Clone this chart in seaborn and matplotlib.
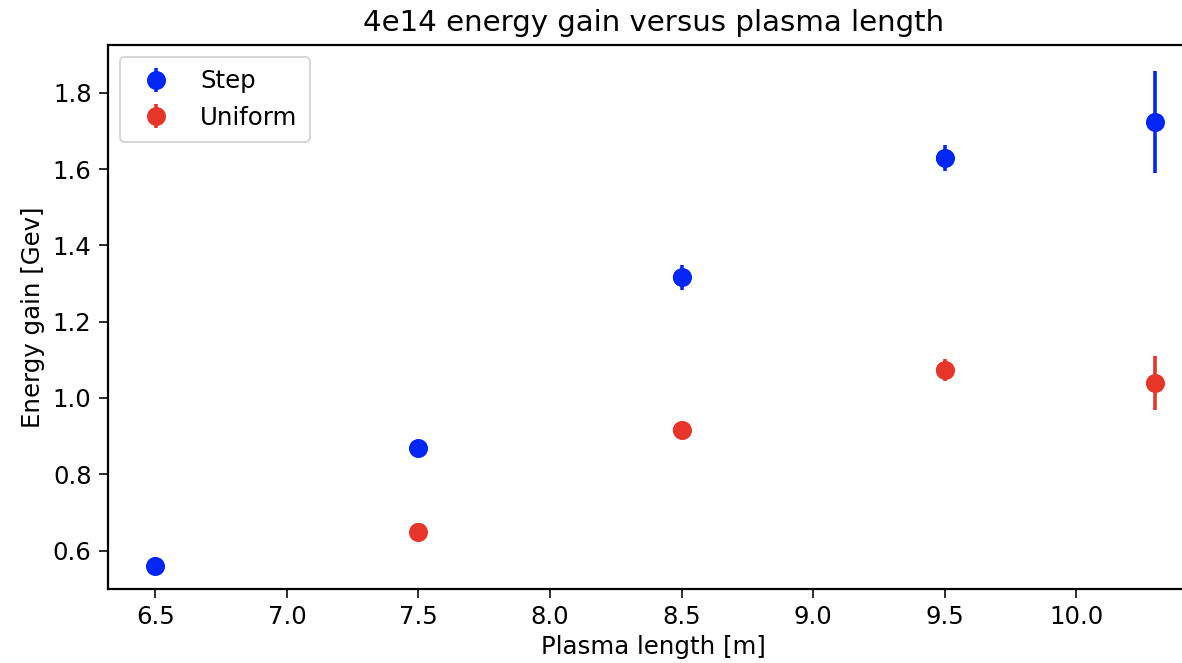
import matplotlib
matplotlib.use("Agg")
import matplotlib.pyplot as plt
import seaborn as sns
import pandas as pd

# Measured energy gain per plasma length, with uncertainties
step_length = [6.5, 7.5, 8.5, 9.5, 10.3]
step_gain = [0.560, 0.868, 1.316, 1.629, 1.724]
step_err = [0.008, 0.008, 0.032, 0.034, 0.134]

uniform_length = [7.5, 8.5, 9.5, 10.3]
uniform_gain = [0.650, 0.916, 1.073, 1.039]
uniform_err = [0.008, 0.010, 0.028, 0.070]

series_names = ["Step", "Uniform"]
series_colors = ["#0226f5", "#e8352a"]

df = pd.concat([
    pd.DataFrame({"length": step_length, "gain": step_gain, "err": step_err, "series": series_names[0]}),
    pd.DataFrame({"length": uniform_length, "gain": uniform_gain, "err": uniform_err, "series": series_names[1]}),
])

sns.set_style("ticks", {"axes.edgecolor": "black", "xtick.color": "black",
                        "ytick.color": "black", "text.color": "black",
                        "axes.labelcolor": "black"})
plt.rcParams["font.family"] = ["DejaVu Sans"]
plt.rcParams["font.size"] = 12.2
plt.rcParams["xtick.labelsize"] = 12.2
plt.rcParams["ytick.labelsize"] = 12.2
plt.rcParams["axes.labelsize"] = 12.2
plt.rcParams["xtick.major.size"] = 4.5
plt.rcParams["ytick.major.size"] = 4.5

fig, ax = plt.subplots(figsize=(1182 / 144, 663 / 144), dpi=144)
palette = dict(zip(series_names, series_colors))

for name in series_names:
    sub = df[df["series"] == name]
    ax.errorbar(sub["length"], sub["gain"], yerr=sub["err"], fmt="o",
                color=palette[name], markersize=8.5, elinewidth=1.8,
                capsize=0, label=name)

sns.scatterplot(data=df, x="length", y="gain", hue="series", palette=palette,
                s=75, edgecolor="none", legend=False, ax=ax, zorder=3)

for side in ["top", "right", "left", "bottom"]:
    ax.spines[side].set_visible(True)
    ax.spines[side].set_linewidth(1.1)

ax.set_xlim(6.318, 10.47)
ax.set_ylim(0.50, 1.925)
ax.set_xticks([6.5, 7.0, 7.5, 8.0, 8.5, 9.0, 9.5, 10.0])
ax.set_yticks([0.6, 0.8, 1.0, 1.2, 1.4, 1.6, 1.8])
ax.set_xlabel("Plasma length [m]", labelpad=3)
ax.set_ylabel("Energy gain [Gev]")
ax.set_title("4e14 energy gain versus plasma length", fontsize=14.6, pad=7)
ax.legend(loc="upper left", fontsize=12.2, borderpad=0.5)

# The plot area runs slightly past the right edge of the canvas
fig.subplots_adjust(left=0.091, right=1.015, top=0.932, bottom=0.112)
fig.savefig("out.png", dpi=144)
